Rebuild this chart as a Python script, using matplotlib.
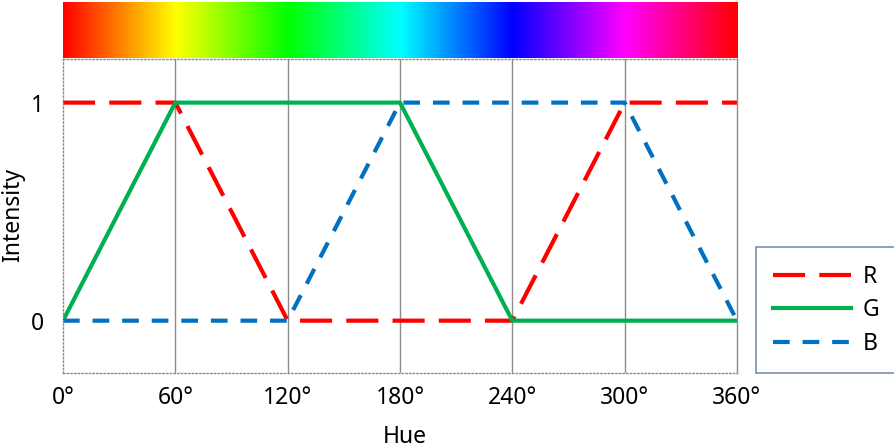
import numpy as np
import matplotlib
matplotlib.use("Agg")
import matplotlib.pyplot as plt
from matplotlib.colors import hsv_to_rgb

plt.rcParams['font.family'] = ['Noto Sans', 'DejaVu Sans']

hue = [0, 60, 120, 180, 240, 300, 360]
R = [1, 1, 0, 0, 0, 1, 1]
G = [0, 1, 1, 1, 0, 0, 0]
B = [0, 0, 0, 1, 1, 1, 0]
xtick_labels = ["0°", "60°", "120°", "180°", "240°", "300°", "360°"]
ytick_vals = [0, 1]
ytick_labels = ["0", "1"]

W, H = 895, 448
fig = plt.figure(figsize=(W / 100, H / 100), dpi=100)

ax = fig.add_axes([63 / W, 75 / H, (737 - 63) / W, (373 - 59) / H])
cax = fig.add_axes([63 / W, (448 - 58) / H, (738 - 63) / W, 56 / H])

# hue gradient bar
hh = np.linspace(0, 1, 720)
hsv = np.stack([hh, np.ones_like(hh), np.ones_like(hh)], axis=-1)[None, :, :]
rgb = hsv_to_rgb(hsv)
cax.imshow(rgb, aspect='auto', extent=[0, 360, 0, 1])
cax.set_axis_off()

lw = 3.0
ax.plot(hue, R, color='#FF0000', lw=lw, dashes=(7.7, 3.4), label='R')
ax.plot(hue, G, color='#00B050', lw=lw, label='G')
ax.plot(hue, B, color='#0070C0', lw=lw, dashes=(4.0, 3.1), label='B')

fs = 16.5
ax.set_xlim(0, 360)
ax.set_ylim(-0.24, 1.20)
ax.set_xticks(hue)
ax.set_xticklabels(xtick_labels)
ax.set_yticks(ytick_vals)
ax.set_yticklabels(ytick_labels)
ax.tick_params(axis='both', length=0, labelsize=fs)
ax.tick_params(axis='x', pad=9.5)
ax.tick_params(axis='y', pad=14)
for x in hue[1:-1]:
    ax.axvline(x, color='#8c8c8c', lw=1.0, zorder=0)
for side, sp in ax.spines.items():
    sp.set_color('#8c8c8c')
    sp.set_linewidth(1.0)
    if side != 'right':
        sp.set_linestyle(':')

ax.set_xlabel('Hue', fontsize=fs, va='center')
ax.set_ylabel('Intensity', fontsize=fs, va='center')
ax.xaxis.set_label_coords((405 - 63) / 674, (373 - 437) / 314)
ax.yaxis.set_label_coords((13 - 63) / 674, (373 - 215) / 314)

leg = fig.legend(loc='lower left', bbox_to_anchor=(756 / W, 75 / H),
                 frameon=True, fancybox=False, fontsize=fs,
                 handlelength=3.4, handletextpad=0.5, borderpad=0.75,
                 labelspacing=0.42, borderaxespad=0)
leg.get_frame().set_edgecolor('#5a7596')
leg.get_frame().set_linewidth(1.2)

fig.savefig('out.png', dpi=100)
